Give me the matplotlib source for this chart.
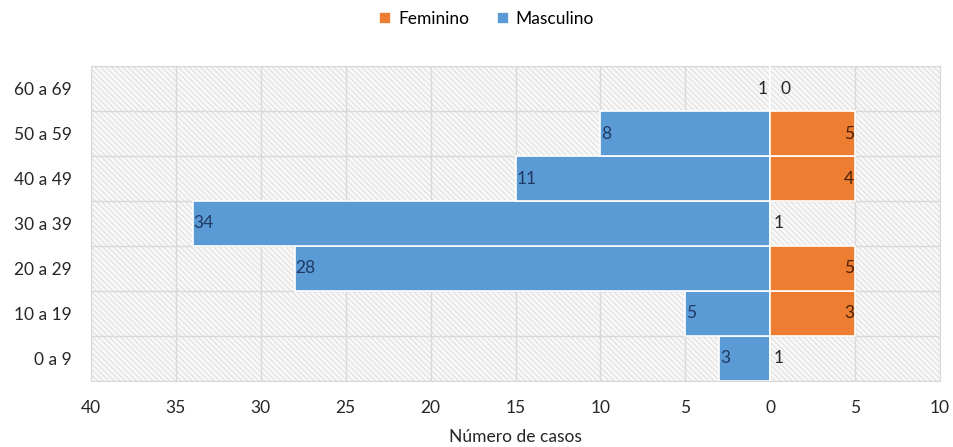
import numpy as np
import matplotlib.pyplot as plt
from matplotlib.patches import Rectangle

plt.rcParams['font.family'] = ['Lato', 'DejaVu Sans']
plt.rcParams['hatch.color'] = '#d9d9d9'
plt.rcParams['hatch.linewidth'] = 0.6

# faixas etárias (de baixo para cima)
grupos = ['0 a 9', '10 a 19', '20 a 29', '30 a 39', '40 a 49', '50 a 59', '60 a 69']
# comprimento das barras como desenhado na figura original
masc_barra = [3, 5, 28, 34, 15, 10, 0]
fem_barra = [0, 5, 5, 0, 5, 5, 0]
# rótulos exibidos
masc_rotulo = [3, 5, 28, 34, 11, 8, 1]
fem_rotulo = [1, 3, 5, 1, 4, 5, 0]
xticks = [-40, -35, -30, -25, -20, -15, -10, -5, 0, 5, 10]

azul = '#5B9BD5'
laranja = '#ED7D31'
texto = '#262626'
fs = 12.5

fig = plt.figure(figsize=(9.54, 4.47), dpi=100)
ax = fig.add_axes([0.0954, 0.148, 0.890, 0.704])

# fundo hachurado da área de plotagem
fundo = Rectangle((0, 0), 1, 1, transform=ax.transAxes, facecolor='#f8f8f8',
                  edgecolor='#d9d9d9', hatch='\\\\\\\\\\\\', linewidth=0, zorder=0)
ax.add_patch(fundo)

y = np.arange(len(grupos))
ax.barh(y, [-v for v in masc_barra], height=1.0, color=azul, edgecolor='white',
        linewidth=1.2, label='Masculino', zorder=3)
ax.barh(y, fem_barra, height=1.0, color=laranja, edgecolor='white',
        linewidth=1.2, label='Feminino', zorder=3)

for i in range(len(grupos)):
    mb, ml = masc_barra[i], masc_rotulo[i]
    if mb > 0:
        ax.text(-mb + 0.05, i, str(ml), ha='left', va='center', fontsize=fs,
                color='#1f3864', zorder=4)
    else:
        ax.text(-0.15, i, str(ml), ha='right', va='center', fontsize=fs,
                color=texto, zorder=4)
    fb, fl = fem_barra[i], fem_rotulo[i]
    if fb > 0:
        ax.text(fb - 0.05, i, str(fl), ha='right', va='center', fontsize=fs,
                color='#4a1f05', zorder=4)
    else:
        ax.text(0.2 if fl != 0 else 0.6, i, str(fl), ha='left', va='center',
                fontsize=fs, color=texto, zorder=4)

ax.set_xlim(-40, 10)
ax.set_ylim(-0.5, len(grupos) - 0.5)
ax.set_xticks(xticks)
ax.set_xticklabels([str(abs(t)) for t in xticks], fontsize=fs, color=texto)
ax.set_yticks(y)
ax.set_yticklabels(grupos, fontsize=fs, color=texto)
ax.set_yticks(np.arange(-0.5, len(grupos), 1.0), minor=True)
ax.tick_params(axis='both', which='both', length=0)
ax.tick_params(axis='x', pad=14)
ax.tick_params(axis='y', pad=14)

ax.grid(axis='x', which='major', color='#d9d9d9', linewidth=1, zorder=1)
ax.grid(axis='y', which='minor', color='#d9d9d9', linewidth=1, zorder=1)
ax.set_axisbelow(True)
for s in ax.spines.values():
    s.set_color('#d9d9d9')

ax.set_xlabel('Número de casos', fontsize=fs, color=texto, labelpad=9)

h, l = ax.get_legend_handles_labels()
fig.legend(h[::-1], l[::-1], loc='center', bbox_to_anchor=(0.51, 0.958), ncol=2,
           frameon=False, fontsize=fs, handlelength=0.7, handleheight=0.7,
           handletextpad=0.4, columnspacing=1.6)

plt.savefig('out.png', dpi=100)
